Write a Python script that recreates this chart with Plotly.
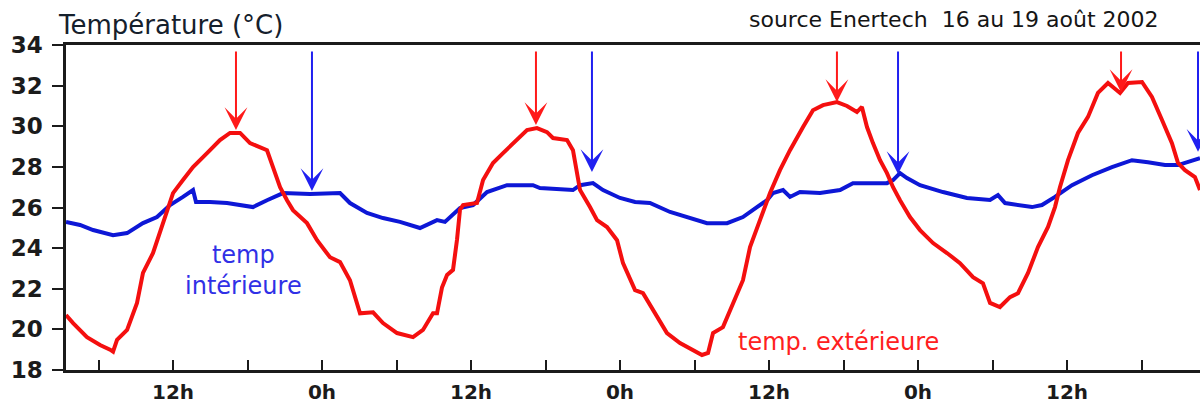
import plotly.graph_objects as go

# hours since 16 Aug 2002 00:00
ext_hours = [3.38, 3.95, 5.07, 6.12, 6.93, 7.17, 7.49, 8.30, 9.10, 9.58, 10.39, 10.95, 11.52, 12.0,
             12.80, 13.61, 14.74, 15.78, 16.59, 17.40, 18.20, 19.57, 20.05, 20.62, 21.18, 21.66,
             22.79, 23.60, 24.64, 25.45, 26.25, 27.06, 28.11, 28.91, 30.04, 31.33, 32.13, 32.94,
             33.26, 33.66, 34.07, 34.55, 34.87, 35.11, 35.36, 36.48, 36.97, 37.77, 38.58, 39.38,
             40.51, 41.31, 42.12, 42.60, 43.73, 44.21, 44.54, 44.78, 45.58, 46.15, 46.95, 47.76,
             48.24, 49.21, 49.85, 50.98, 51.78, 52.83, 53.88, 54.60, 55.09, 55.49, 56.29, 57.10,
             57.90, 58.47, 59.27, 60.08, 60.88, 61.69, 62.74, 63.54, 64.35, 65.47, 66.28, 67.08,
             67.48, 67.89, 68.37, 68.94, 69.50, 69.99, 70.55, 71.35, 72.16, 73.21, 74.33, 75.38,
             76.43, 77.23, 77.80, 78.60, 79.41, 80.05, 80.86, 81.66, 82.47, 83.03, 83.43, 84.08,
             84.88, 85.69, 86.49, 87.30, 88.27, 88.91, 90.04, 90.84, 91.65, 92.45, 92.94, 93.50,
             94.30, 94.71]
ext_temp = [20.71, 20.31, 19.62, 19.23, 19.00, 18.90, 19.48, 19.97, 21.30, 22.78, 23.76, 24.74, 25.87, 26.71,
            27.35, 27.99, 28.68, 29.32, 29.67, 29.67, 29.17, 28.82, 27.99, 27.00, 26.36, 25.87,
            25.23, 24.39, 23.55, 23.31, 22.42, 20.79, 20.84, 20.31, 19.82, 19.62, 19.97, 20.79,
            20.79, 22.06, 22.68, 22.93, 24.41, 25.89, 26.12, 26.22, 27.35, 28.19, 28.68, 29.17,
            29.81, 29.91, 29.71, 29.42, 29.32, 28.82, 27.69, 26.86, 26.02, 25.38, 25.04, 24.39,
            23.26, 21.93, 21.78, 20.60, 19.82, 19.33, 18.98, 18.74, 18.84, 19.82, 20.11, 21.30,
            22.42, 24.05, 25.38, 26.71, 27.84, 28.82, 29.96, 30.79, 31.04, 31.19, 31.00, 30.70,
            30.95, 29.96, 29.17, 28.33, 27.69, 27.00, 26.36, 25.53, 24.89, 24.25, 23.76, 23.26,
            22.57, 22.27, 21.30, 21.10, 21.59, 21.78, 22.78, 24.05, 25.04, 26.02, 27.00, 28.33,
            29.67, 30.46, 31.64, 32.13, 31.64, 32.13, 32.18, 31.44, 30.31, 29.17, 28.19, 27.84,
            27.50, 26.86]

int_hours = [3.38, 4.51, 5.56, 7.17, 8.30, 9.58, 10.71, 11.76, 12.80, 13.61, 13.85, 14.98, 16.35, 17.40,
             18.44, 19.57, 20.86, 23.03, 25.45, 26.25, 27.62, 28.91, 30.28, 31.89, 33.26, 33.90,
             35.11, 36.16, 37.29, 38.90, 40.99, 41.55, 44.21, 44.78, 45.82, 46.63, 48.00, 49.21,
             50.41, 52.03, 53.64, 55.01, 56.62, 57.90, 59.03, 59.84, 60.32, 61.13, 61.69, 62.49,
             64.11, 65.72, 66.76, 69.50, 69.99, 70.55, 71.11, 72.16, 74.01, 75.94, 77.80, 78.44,
             79.01, 81.18, 81.98, 83.03, 84.40, 86.01, 87.62, 89.23, 90.52, 91.89, 92.94, 94.07,
             94.71]
int_temp = [25.29, 25.14, 24.89, 24.64, 24.74, 25.23, 25.53, 26.12, 26.52, 26.86, 26.27, 26.27, 26.22, 26.12,
            26.02, 26.36, 26.71, 26.66, 26.71, 26.22, 25.73, 25.48, 25.29, 24.99, 25.38, 25.29,
            25.97, 26.12, 26.76, 27.10, 27.10, 26.96, 26.86, 27.10, 27.20, 26.86, 26.47, 26.27,
            26.22, 25.78, 25.48, 25.23, 25.23, 25.53, 26.02, 26.36, 26.71, 26.86, 26.52, 26.76,
            26.71, 26.86, 27.20, 27.20, 27.35, 27.69, 27.45, 27.10, 26.76, 26.47, 26.37, 26.61,
            26.22, 26.02, 26.12, 26.52, 27.10, 27.59, 27.99, 28.33, 28.23, 28.09, 28.09, 28.33,
            28.43]

# arrows: maxima of outside temp (red) and of inside temp (blue)
ext_max_hours = [17.07, 41.23, 65.47, 88.35]
ext_max_temp = [29.81, 30.06, 31.19, 31.68]
int_max_hours = [23.19, 45.74, 70.39, 94.55]
int_max_temp = [26.81, 27.75, 27.65, 28.74]
arrow_top = 33.75

tick_hours = [6, 12, 18, 24, 30, 36, 42, 48, 54, 60, 66, 72, 78, 84, 90]
tick_text = ["", "12h", "", "0h", "", "12h", "", "0h", "", "12h", "", "0h", "", "12h", ""]
y_ticks = [18, 20, 22, 24, 26, 28, 30, 32, 34]

FONT = "DejaVu Sans"
RED = "#f40f0f"
BLUE = "#0d17d6"
AXC = "#1b1b1b"
XR = [3.38, 94.71]

fig = go.Figure()
fig.add_trace(go.Scatter(x=int_hours, y=int_temp, mode="lines",
                         line=dict(color=BLUE, width=4), hoverinfo="skip", showlegend=False))
fig.add_trace(go.Scatter(x=ext_hours, y=ext_temp, mode="lines",
                         line=dict(color=RED, width=4), hoverinfo="skip", showlegend=False))

for h, t in zip(ext_max_hours, ext_max_temp):
    fig.add_annotation(x=h, y=t, ax=h, ay=arrow_top, xref="x", yref="y", axref="x", ayref="y",
                       text="", showarrow=True, arrowhead=3, arrowsize=1.9, arrowwidth=2,
                       arrowcolor="#ff1a1a")
for h, t in zip(int_max_hours, int_max_temp):
    fig.add_annotation(x=h, y=t, ax=h, ay=arrow_top, xref="x", yref="y", axref="x", ayref="y",
                       text="", showarrow=True, arrowhead=3, arrowsize=1.9, arrowwidth=2,
                       arrowcolor="#2020f0")

fig.add_annotation(x=17.64, y=22.92, xref="x", yref="y", text="temp<br>intérieure", showarrow=False,
                   font=dict(family=FONT, size=24, color="#3030e6"), align="center")
fig.add_annotation(x=57.3, y=19.38, xref="x", yref="y", text="temp. extérieure", showarrow=False,
                   xanchor="left", font=dict(family=FONT, size=24, color="#ff2020"))

fig.add_annotation(x=-0.009, y=1.062, xref="paper", yref="paper", text="Température (°C)",
                   showarrow=False, xanchor="left", yanchor="middle",
                   font=dict(family=FONT, size=26, color="#15202c"))
fig.add_annotation(x=0.966, y=1.077, xref="paper", yref="paper",
                   text="source Enertech  16 au 19 août 2002",
                   showarrow=False, xanchor="right", yanchor="middle",
                   font=dict(family=FONT, size=22, color="#151515"))

fig.update_layout(
    width=1200, height=404,
    margin=dict(l=66, r=0, t=45, b=34, autoexpand=False),
    paper_bgcolor="white", plot_bgcolor="white",
    xaxis=dict(range=XR, tickmode="array", tickvals=tick_hours, ticktext=tick_text,
               ticks="inside", ticklen=10, tickwidth=2, tickcolor=AXC, automargin=False,
               showline=True, linecolor=AXC, linewidth=2.5, mirror=True,
               showgrid=False, zeroline=False, ticklabelstandoff=2,
               tickfont=dict(family=FONT, size=20, color=AXC, weight="bold")),
    xaxis2=dict(range=XR, overlaying="x", anchor="y", side="bottom", tickmode="array",
                tickvals=tick_hours, ticks="outside", ticklen=11, tickwidth=2, tickcolor=AXC,
                automargin=False,
                showticklabels=False, showline=False, showgrid=False, zeroline=False),
    yaxis=dict(range=[18, 34], tickmode="array", tickvals=y_ticks, automargin=False,
               ticks="outside", ticklen=11, tickwidth=2, tickcolor=AXC,
               showline=True, linecolor=AXC, linewidth=2.5,
               showgrid=False, zeroline=False, ticklabelstandoff=5,
               tickfont=dict(family=FONT, size=23, color=AXC, weight="bold")),
)

fig.write_html("out.html", config={"displayModeBar": False},
               post_script="document.body.style.margin='0';")
